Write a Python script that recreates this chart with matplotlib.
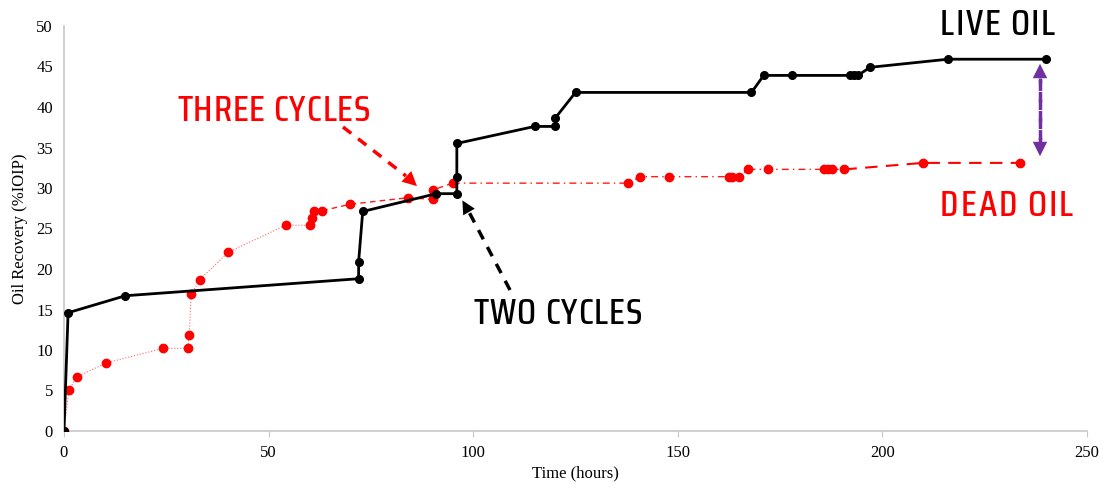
import matplotlib
matplotlib.use("Agg")
import matplotlib.pyplot as plt
from matplotlib import font_manager
from matplotlib.font_manager import FontProperties
from matplotlib.textpath import TextPath

# ---- data ----
live_time = [0, 1, 15, 72, 72, 73, 91, 96, 96, 96, 115, 120, 120, 125, 168, 171, 178, 192, 193, 194, 197, 216, 240]
live_rec = [0, 14.6, 16.7, 18.8, 20.9, 27.1, 29.3, 29.3, 31.3, 35.5, 37.6, 37.6, 38.6, 41.8, 41.8, 43.9, 43.9, 43.9, 43.9, 43.9, 44.9, 45.9, 45.9]

dead_time = [0, 1.2, 3.2, 10.3, 24.2, 30.2, 30.6, 31.1, 33.2, 40.2, 54.2, 60.1, 60.6, 61.1, 63.1,
             70.0, 84.0, 90.1, 90.1, 95.0, 137.8, 140.8, 147.8, 162.5, 163.2, 165.0, 167.1, 172.0,
             185.8, 186.8, 187.8, 190.7, 209.9, 233.7]
dead_rec = [0, 5.1, 6.7, 8.4, 10.2, 10.2, 11.8, 16.9, 18.7, 22.1, 25.4, 25.4, 26.3, 27.2, 27.2,
            28.0, 28.8, 28.6, 29.75, 30.6, 30.6, 31.4, 31.4, 31.4, 31.4, 31.4, 32.3, 32.3,
            32.3, 32.3, 32.3, 32.3, 33.1, 33.1]

x_ticks = [0, 50, 100, 150, 200, 250]
y_ticks = [0, 5, 10, 15, 20, 25, 30, 35, 40, 45, 50]

avail = {f.name for f in font_manager.fontManager.ttflist}
serif = 'Liberation Serif' if 'Liberation Serif' in avail else 'DejaVu Serif'
narrow = [n for n in ['Saira Condensed', 'Saira ExtraCondensed', 'Roboto Condensed'] if n in avail] + ['DejaVu Sans']

W, H = 1103, 488
fig = plt.figure(figsize=(W/100, H/100), dpi=100)
ax = fig.add_axes([64/W, 1-431/H, (1087-64)/W, (431-26)/H])

RED = '#ff0000'
segs = [(0, 14, ':', 0.8, 0.6), (14, 19, (0, (4, 3)), 1.0, 0.9), (19, 31, (0, (5, 3, 1, 3)), 1.0, 0.9), (31, 33, (0, (6, 4)), 1.5, 1.0)]
for a, b, ls, lw, al in segs:
    ax.plot(dead_time[a:b+1], dead_rec[a:b+1], color=RED, ls=ls, lw=lw, alpha=al, zorder=2)
ax.plot(dead_time, dead_rec, ls='none', marker='o', ms=6, color=RED, zorder=3)

ax.plot(live_time, live_rec, color='black', lw=2, marker='o', ms=5.5, zorder=4)

ax.set_xlim(0, 250)
ax.set_ylim(0, 50)
ax.set_xticks(x_ticks)
ax.set_yticks(y_ticks)
for s in ['top', 'right']:
    ax.spines[s].set_visible(False)
for s in ['left', 'bottom']:
    ax.spines[s].set_color('#c8c8c8')
    ax.spines[s].set_linewidth(1.2)
ax.tick_params(axis='x', length=4, color='#c8c8c8', labelsize=12, pad=6)
ax.tick_params(axis='y', length=0, labelsize=12, pad=8)
for lab in ax.get_xticklabels() + ax.get_yticklabels():
    lab.set_fontfamily(serif)
ax.set_xlabel('Time (hours)', fontfamily=serif, fontsize=12, labelpad=3)
ax.set_ylabel('Oil Recovery (%IOIP)', fontfamily=serif, fontsize=12, labelpad=6)

def f(x, y):
    return (x/W, 1-y/H)

renderer = fig.canvas.get_renderer()
fp = FontProperties(family=narrow, weight='medium')
cap_unit = TextPath((0, 0), 'H', size=1, prop=fp).get_extents().height  # cap height per pt

def spaced_label(left, right, base, cap_px, s, color):
    size = cap_px * 0.72 / cap_unit
    p = fp.copy()
    p.set_size(size)
    def wid(t):
        return renderer.get_text_width_height_descent(t, p, ismath=False)[0]
    ref = wid('HH')
    adv = [wid('H' + c + 'H') - ref for c in s]
    natural = sum(adv)
    extra = ((right - left) - natural) / (len(s) - 1)
    x = left
    for c, a in zip(adv, s):
        if a != ' ':
            fig.text(x / W, 1 - base / H, a, color=color, fontproperties=p,
                     ha='left', va='baseline', transform=fig.transFigure)
        x += c + extra

CAP = 25.5
spaced_label(177, 370, 120.7, CAP, 'THREE CYCLES', RED)
spaced_label(473, 642, 324, CAP, 'TWO CYCLES', 'black')
spaced_label(940, 1055, 35, CAP, 'LIVE OIL', 'black')
spaced_label(940, 1073, 215.7, CAP, 'DEAD OIL', RED)

def dashed_arrow(p0, p1, tip, color, lw=2.5, ms=22):
    fig.add_artist(plt.Line2D([p0[0]/W, p1[0]/W], [1-p0[1]/H, 1-p1[1]/H], transform=fig.transFigure,
                              color=color, lw=lw, ls=(0, (3, 2.5))))
    fig.add_artist(matplotlib.patches.FancyArrowPatch(f(*p1), f(*tip), transform=fig.transFigure,
                   arrowstyle='-|>', mutation_scale=ms, color=color, lw=0))

dashed_arrow((343, 127), (406, 176), (419, 188), RED, ms=26)
dashed_arrow((510, 290), (469, 212), (461, 198), 'black', ms=24)
PURPLE = '#7030a0'
dashed_arrow((1040, 140), (1040, 78), (1040, 61), PURPLE, ms=26)
dashed_arrow((1040, 80), (1040, 142), (1040, 159), PURPLE, ms=26)

fig.savefig('out.png', dpi=100)
